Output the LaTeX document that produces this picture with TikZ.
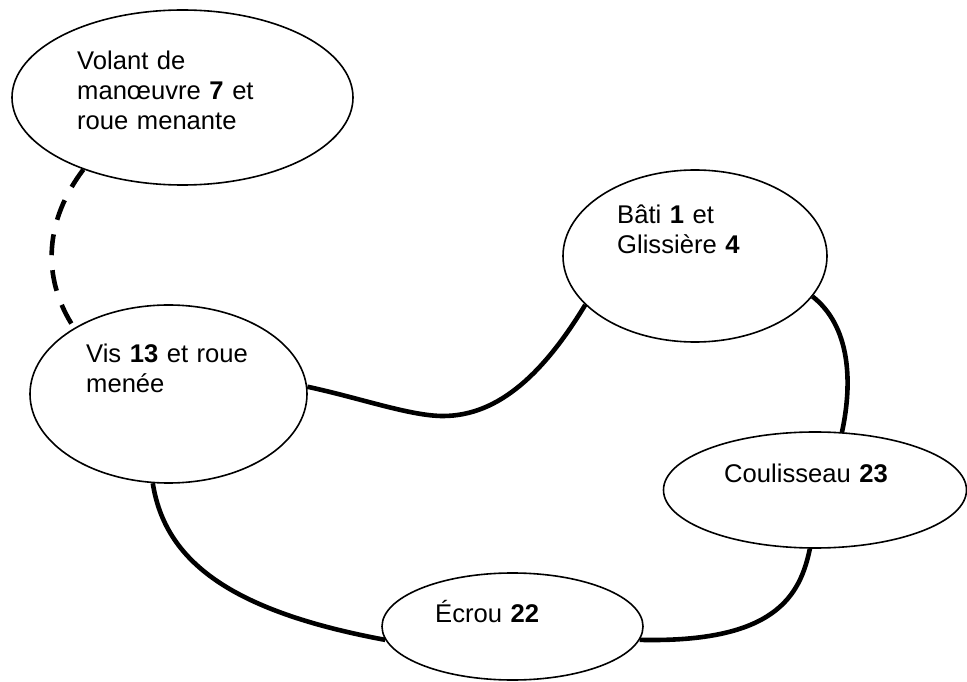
\documentclass[tikz,border=0pt]{standalone}
\usepackage{fontspec}
\setmainfont{Liberation Sans}
\usetikzlibrary{shapes.geometric}
\begin{document}
\begin{tikzpicture}[x=1pt,y=1pt,
  part/.style={draw, ellipse, line width=1.6pt, inner sep=0pt},
  lbl/.style={anchor=base west, inner sep=0pt, text width=260pt, align=left,
    font=\fontsize{25.6}{30}\selectfont},
  link/.style={line width=4.6pt},
  dlink/.style={line width=4.6pt, dash pattern=on 21pt off 15pt}]
\useasboundingbox (0,0) rectangle (967,681);
% parts
\node[part, minimum width=341pt, minimum height=175pt] (vol) at (182.5,583.5) {};
\node[part, minimum width=264pt, minimum height=172pt] (bati) at (695,425) {};
\node[part, minimum width=277pt, minimum height=178pt] (vis) at (168.5,287) {};
\node[part, minimum width=303pt, minimum height=116pt] (coul) at (815,191) {};
\node[part, minimum width=261pt, minimum height=107pt] (ecrou) at (512.5,54.5) {};
% labels
\node[lbl] (tvol) at (77,611) {Volant de\\manœuvre \textbf{7} et\\roue menante};
\node[lbl] (tbati) at (617,457) {Bâti \textbf{1} et\\Glissière \textbf{4}};
\node[lbl] (tvis) at (86,318) {Vis \textbf{13} et roue\\menée};
\node[lbl] (tcoul) at (724,199) {Coulisseau \textbf{23}};
\node[lbl] (tecrou) at (435,59) {Écrou \textbf{22}};
% links
\draw[dlink] (vol.216.5) .. controls (46,462) and (40,405) .. (vis.145.6);
\draw[link] (vis.3.7) .. controls (360,283) and (410,265) .. (443,265)
  .. controls (500,265) and (545,310) .. (bati.204.4);
\draw[link] (bati.-19.6) .. controls (850,355) and (853,300) .. (coul.65.8);
\draw[link] (coul.265) .. controls (800,85) and (775,38) .. (ecrou.-6.8);
\draw[link] (vis.260) .. controls (165,120) and (230,70) .. (ecrou.186);
\end{tikzpicture}
\end{document}
